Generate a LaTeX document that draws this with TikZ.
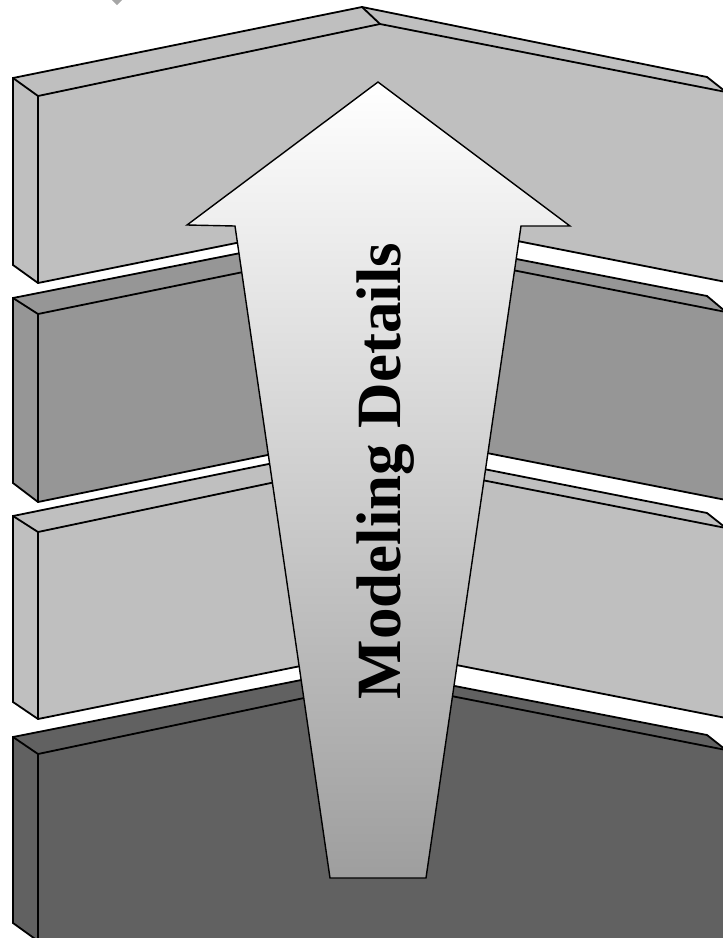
\documentclass[tikz,border=0pt]{standalone}
\usepackage{fontspec}
\setmainfont{Liberation Serif}

\begin{document}
\begin{tikzpicture}[x=1pt, y=-1pt,
  slab/.style={draw=black, line width=1.8pt},
  lightslab/.style={slab, fill=black!25},
  midslab/.style={slab, fill=black!41},
  darkslab/.style={slab, fill=black!62},
  rim/.style={draw=black, line width=1.8pt},
  bigarrow/.style={draw=black, line width=1.4pt, top color=white, bottom color=black!38},
  label/.style={rotate=90, anchor=base, font=\fontsize{63}{70}\selectfont\bfseries}
]
\useasboundingbox (0,0) rectangle (723,938);
\clip (0,0) rectangle (723,938);
% stray bit at the top
\fill[black!35] (112,0) -- (122,0) -- (117,5) -- cycle;
% slab 1
\path[lightslab] (13,78) -- (362,7) -- (707,77) -- (726,92) -- (726,282) -- (380,214) -- (38,283) -- (13,265) -- cycle;
\draw[rim] (38,283) -- (38,96) -- (380,24) -- (726,92);
\draw[rim] (13,78) -- (38,96);
\draw[rim] (362,7) -- (380,24);
% slab 2
\path[midslab] (13,298) -- (362,229) -- (707,296) -- (726,312) -- (726,500) -- (380,432) -- (38,502) -- (13,483) -- cycle;
\draw[rim] (38,502) -- (38,314) -- (380,244) -- (726,312);
\draw[rim] (13,298) -- (38,314);
% slab 3
\path[lightslab] (13,516) -- (362,445) -- (707,513) -- (726,528) -- (726,718) -- (380,650) -- (38,719) -- (13,702) -- cycle;
\draw[rim] (38,719) -- (38,532) -- (380,460) -- (726,528);
\draw[rim] (13,516) -- (38,532);
% slab 4
\path[darkslab] (13,737) -- (362,668) -- (707,735) -- (726,750) -- (726,950) -- (38,950) -- (38,941) -- (13,923) -- cycle;
\draw[rim] (38,950) -- (38,754) -- (380,682) -- (726,750);
\draw[rim] (13,737) -- (38,754);
% arrow
\path[bigarrow] (378,82) -- (570,226) -- (521,226) -- (426,878) -- (330,878) -- (235,226) -- (187,225) -- cycle;
\node[label] (lbl) at (400,471) {Modeling Details};
\end{tikzpicture}
\end{document}
